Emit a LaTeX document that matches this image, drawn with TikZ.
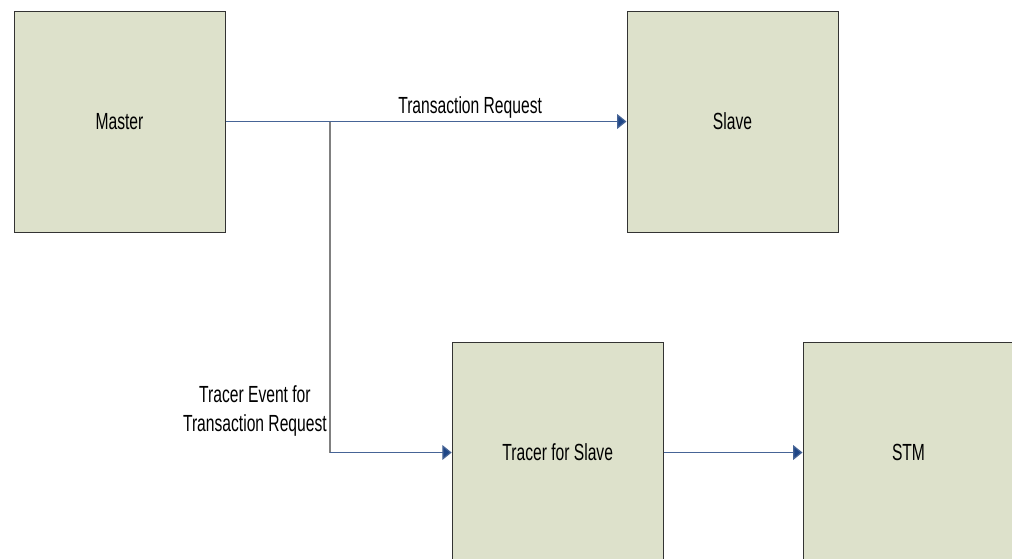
\documentclass[tikz,border=0pt]{standalone}
\usepackage{fontspec}
\setmainfont[FakeStretch=0.67]{Liberation Sans}
\usetikzlibrary{arrows.meta}
\definecolor{boxfill}{RGB}{221,225,203}
\definecolor{linkblue}{RGB}{70,100,150}
\definecolor{tipblue}{RGB}{30,70,135}
\tikzset{
	unit/.style={draw=black!80,line width=0.75pt,fill=boxfill,minimum width=211*0.75pt,minimum height=221*0.75pt,inner sep=0pt,font=\fontsize{17.5}{21}\selectfont},
	link/.style={draw=linkblue,line width=0.9pt,-{Triangle[length=7pt,width=11pt,fill=tipblue]}},
	lbl/.style={text=black,font=\fontsize{17.5}{21.75}\selectfont,inner sep=2pt}
}
\begin{document}
\begin{tikzpicture}[x=0.75pt,y=-0.75pt]
				\useasboundingbox (0,0) rectangle (1012,558);
				\foreach \n/\x/\y/\t in {master/119.5/121.5/Master,slave/732.5/121.5/Slave,tracer/557.7/452.5/Tracer for Slave,stm/908.5/452.5/STM}
				\node[unit] (\n) at (\x,\y) {\t};
				\path
				(master.east -| 330,0) coordinate (fork)
				(fork |- tracer.west) coordinate (bend)
				;
				\draw[link] (master.east) -- node[lbl,above,pos=0.61] {Transaction Request} (slave.west);
				\draw[gray,line width=0.9pt] (fork) -- node[lbl,left,align=center,pos=0.875] {Tracer Event for\\Transaction Request} (bend);
				\draw[link] (bend) -- (tracer.west);
				\draw[link] (tracer.east) -- (stm.west);
			\end{tikzpicture}
\end{document}
